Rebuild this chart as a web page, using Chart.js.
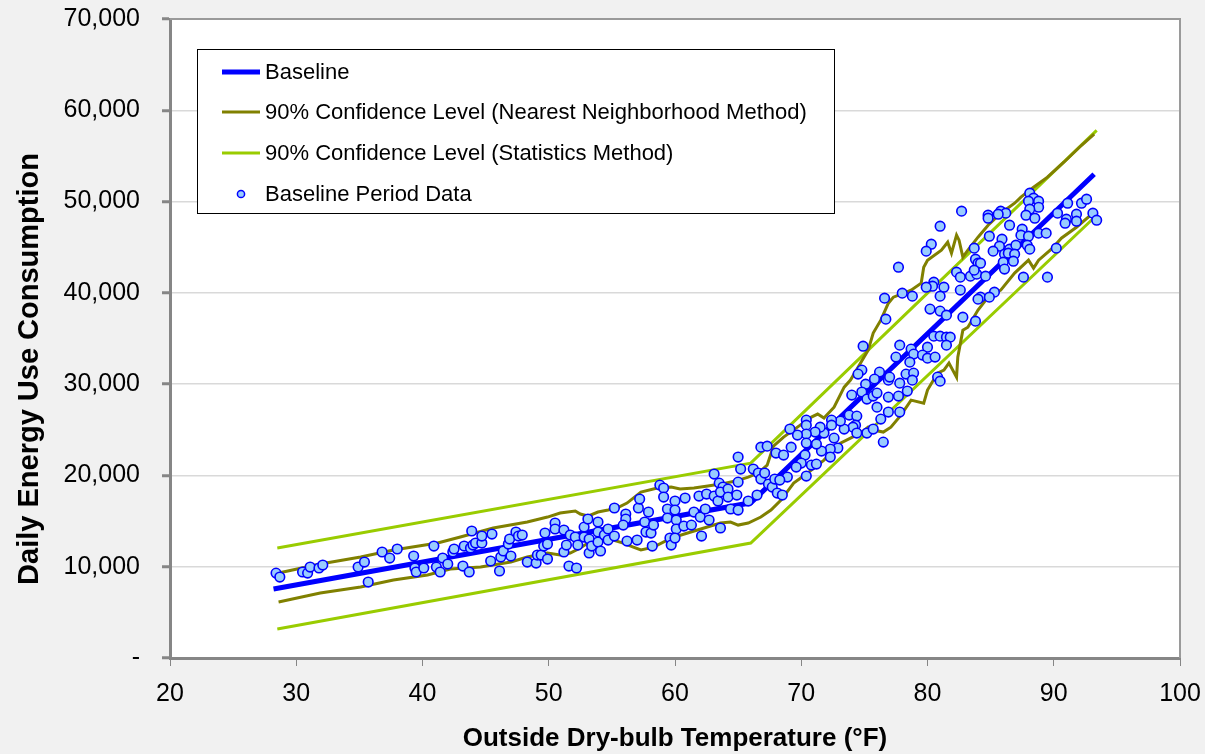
<!DOCTYPE html>
<html>
<head>
<meta charset="utf-8">
<script src="https://cdn.jsdelivr.net/npm/chart.js@4.4.1/dist/chart.umd.min.js"></script>
<style>
html, body { margin: 0; padding: 0; background: #f1f1f1; }
#wrap { width: 1205px; height: 754px; }
</style>
</head>
<body>
<div id="wrap"><canvas id="chart" width="1205" height="754"></canvas></div>
<script>
// baseline model (change point model)
var baseTemp = [28.2, 66.0, 93.2];
var baseEnergy = [7560, 17000, 53000];

// 90% confidence band, statistics method
var statTemp = [28.5, 66.0, 93.4];
var statUpper = [12050, 21350, 57800];
var statLower = [3180, 12590, 48500];

// 90% confidence band, nearest neighborhood method
var nnUpperTemp = [28.6, 31.9, 35.1, 37.7, 41.2, 43.0, 45.6, 48.3, 49.9, 50.9, 52.1, 52.5, 53.1, 53.9, 54.7, 55.4, 56.2, 57.3, 58.6, 59.7, 60.4, 61.5, 62.6, 63.6, 64.8, 65.8, 66.6, 67.3, 67.8, 68.6, 69.7, 70.8, 71.3, 71.8, 72.6, 73.4, 73.9, 74.5, 75.3, 75.7, 76.3, 76.9, 77.3, 78.7, 79.5, 79.7, 80.0, 81.1, 81.6, 81.9, 82.3, 82.5, 82.8, 83.2, 84.0, 84.8, 85.8, 86.9, 87.4, 88.4, 89.5, 90.8, 92.2, 93.2];
var nnUpperEnergy = [9310, 10290, 11060, 11830, 12590, 13250, 14240, 14890, 15440, 15880, 16100, 15770, 15550, 15990, 16210, 16430, 16970, 18180, 18620, 18720, 18510, 18620, 18830, 19050, 19380, 19820, 20260, 21130, 23210, 24200, 25290, 26390, 26720, 26280, 27480, 29670, 30440, 31860, 33730, 35590, 37010, 38870, 39530, 40300, 41060, 42810, 43580, 44680, 45550, 44350, 46320, 45770, 43910, 44680, 46100, 47410, 48730, 49820, 50480, 51570, 52670, 54310, 56170, 57380];
var nnLowerTemp = [28.6, 31.9, 35.1, 37.7, 40.4, 42.2, 44.6, 47.0, 48.3, 49.9, 50.9, 51.7, 52.5, 53.1, 54.1, 55.1, 55.9, 56.7, 57.3, 58.3, 59.7, 61.0, 62.3, 63.6, 64.4, 65.0, 65.8, 66.8, 67.6, 68.4, 69.4, 70.5, 71.8, 73.1, 73.9, 74.7, 75.3, 75.7, 76.5, 77.1, 77.9, 78.7, 79.7, 80.0, 80.8, 81.3, 81.7, 82.3, 82.4, 82.8, 83.2, 84.0, 84.8, 85.8, 86.9, 88.0, 88.4, 88.8, 89.9, 90.6, 91.8, 93.2];
var nnLowerEnergy = [6130, 7120, 7770, 8540, 9090, 9750, 9960, 10510, 11060, 11500, 11280, 11500, 12050, 12590, 12920, 12920, 12590, 12150, 11830, 12150, 13140, 13690, 14240, 14780, 14890, 14560, 14780, 15440, 16210, 17300, 19160, 20260, 21680, 23540, 24090, 24640, 25290, 24970, 24750, 25290, 26610, 28250, 27920, 29350, 31210, 31540, 32300, 30770, 32960, 35920, 36240, 38110, 39530, 40300, 42160, 43580, 42710, 43580, 44900, 45990, 47190, 48840];

// baseline period data (outside temperature, daily kWh)
var obsTemp = [
  28.4, 28.7, 30.5, 30.9, 31.1, 31.8, 32.1, 34.9, 35.4, 35.7, 36.8, 37.4, 38.0, 39.3, 39.4, 39.5, 40.1, 40.9, 41.1, 41.4,
  41.6, 42.0, 42.4, 42.5, 43.2, 43.3, 43.7, 43.8, 44.0, 44.2, 44.7, 44.7, 43.9, 45.5, 45.4, 46.1, 46.2, 46.4, 46.8, 46.9,
  47.0, 47.4, 47.6, 47.9, 48.3, 49.0, 49.1, 49.4, 49.7, 49.6, 49.9, 49.9, 50.5, 50.5,
  51.2, 51.2, 51.4, 51.6, 52.2, 51.7, 52.1, 52.3, 52.8, 52.8, 53.1, 53.2, 53.2, 53.4, 53.9, 53.9, 53.9, 54.1, 54.4, 54.7,
  54.7, 55.2, 55.2, 56.1, 56.1, 55.9, 56.2, 57.0, 57.1, 57.2,
  57.6, 57.9, 57.7, 58.1, 58.3, 58.2, 58.8, 59.1, 59.1, 59.4, 59.4, 59.6, 59.7, 60.0, 60.0, 60.1, 60.1, 60.0, 60.7, 60.8,
  61.3, 61.5, 61.9, 62.0, 62.1, 62.4, 62.5, 62.7, 63.1, 63.1, 63.4, 63.6, 63.5, 63.8, 63.6, 64.2, 64.2, 64.4, 64.9, 65.0,
  65.0, 65.0, 65.2, 65.8, 66.2, 66.5, 66.6, 66.8, 66.8, 67.3, 67.1, 67.4, 67.7, 67.9, 68.0, 68.1,
  76.7, 74.9, 74.8, 74.5, 76.2, 75.8, 75.1, 76.9, 74.8, 74.0, 75.2, 75.7, 76.0, 76.9, 76.3, 76.9, 73.8, 74.4, 74.3, 74.1,
  73.4, 73.1, 72.4, 72.4, 74.4, 75.2, 75.7, 76.5, 72.6, 72.9, 72.3, 72.3, 71.6, 71.8, 71.5, 71.1, 71.2, 70.4, 70.4, 70.4,
  70.4, 69.7, 69.1, 69.2, 68.6, 70.3, 70.0, 70.8, 71.2, 70.4, 69.6, 68.9, 68.3, 68.5,
  82.7, 81.0, 80.3, 79.9, 77.7, 83.7, 83.8, 84.0, 82.3, 82.6, 83.4, 83.9, 84.6, 84.9, 80.5, 80.4, 79.9, 81.3, 78.0, 78.8,
  76.6, 81.0, 82.6, 84.2, 84.0, 80.2, 81.0, 81.5, 82.8, 83.8, 77.8, 78.7, 80.5, 81.0, 81.5, 81.8, 81.5, 80.0, 77.5, 78.9,
  78.6, 79.6, 80.0, 80.6, 77.0, 78.3, 78.9, 78.8, 77.8, 78.4, 77.7, 80.8, 81.0, 76.0, 77.8,
  88.1, 88.4, 88.0, 88.8, 88.8, 88.1, 87.8, 88.5, 85.8, 86.2, 85.6, 84.8, 84.8, 86.5, 91.1, 90.3, 91.0, 90.9, 91.8, 91.8,
  92.2, 92.6, 93.1, 93.4, 87.5, 87.4, 88.0, 88.8, 89.4, 85.9, 85.7, 86.5, 87.0, 87.9, 88.1, 85.2, 86.1, 86.4, 86.9, 86.0,
  86.8, 86.1, 84.2, 83.7, 90.2, 87.6, 89.5, 85.3, 84.9
];
var obsEnergy = [
  9300, 8870, 9420, 9300, 9960, 9860, 10180, 9960, 10510, 8320, 11610, 10950, 11940, 11170, 9860, 9420, 9860, 12260, 9960, 9420,
  10950, 10290, 11610, 11940, 10070, 12260, 9420, 12050, 12370, 12590, 12590, 13360, 13910, 13580, 10620, 9530, 11060, 11720, 12480, 13030,
  11170, 13800, 13360, 13470, 10510, 10400, 11280, 11280, 13690, 12260, 12480, 10840, 14780, 14130,
  14020, 11610, 12370, 10070, 9860, 13470, 13250, 12370, 13250, 14340, 15220, 13030, 11500, 12260, 14890, 13800, 12700, 11720, 13470, 14130,
  12920, 13360, 16430, 15770, 15220, 14560, 12810, 12920, 16430, 17410,
  14890, 15990, 13800, 13690, 14560, 12260, 18940, 18620, 17630, 16320, 15330, 13140, 12370, 17190, 16210, 15110, 14130, 13140, 14450, 17520,
  14560, 15990, 17740, 15440, 13360, 16320, 17960, 15110, 20150, 17740, 17190, 14240, 19160, 18730, 18180, 18510, 17630, 16320, 17850, 19270,
  16210, 22010, 20700, 17190, 20700, 17850, 20260, 19600, 23100, 23210, 20260, 19050, 18720, 19600, 22450, 18070,
  37120, 34160, 31540, 31100, 31320, 30550, 30000, 30440, 29130, 28800, 28360, 28690, 27480, 28580, 26170, 26940, 26610, 26500, 25510, 25290,
  25080, 25950, 26060, 25510, 24640, 24640, 25080, 23650, 24090, 23000, 22890, 22010, 22670, 24640, 25290, 24750, 23430, 26060, 25510, 24530,
  23540, 24420, 25080, 23100, 22230, 22230, 21350, 21130, 21240, 19930, 20910, 19820, 19490, 17850,
  48950, 47300, 45330, 44570, 42810, 44900, 43690, 43250, 42270, 41720, 41830, 42050, 41830, 46210, 41170, 40730, 40620, 40620, 39970, 39640,
  39420, 39640, 40300, 39530, 39310, 38220, 38000, 37560, 37340, 36900, 34270, 33840, 35260, 35260, 35150, 35150, 34270, 34050, 32960, 33290,
  32410, 33180, 32850, 32960, 30770, 31100, 31210, 30440, 30110, 29240, 28690, 30770, 30330, 29020, 26940,
  50920, 50370, 50040, 50040, 49380, 49170, 48510, 48180, 48950, 48730, 48620, 48510, 48180, 47410, 49820, 48730, 48070, 47630, 48620, 47850,
  49820, 50260, 48730, 47960, 46980, 46320, 46210, 46540, 46540, 45880, 45110, 44790, 45220, 45220, 44790, 44570, 44240, 44350, 44240, 43360,
  43470, 42600, 43250, 42490, 44900, 41720, 41720, 40080, 39530
];

var yTicks = [0, 10000, 20000, 30000, 40000, 50000, 60000, 70000];
var xTicks = [20, 30, 40, 50, 60, 70, 80, 90, 100];

function toPoints(xs, ys) {
  return xs.map(function (x, i) { return { x: x, y: ys[i] }; });
}

var fontFamily = "'Liberation Sans', Arial, sans-serif";
Chart.defaults.font.family = fontFamily;
Chart.defaults.color = '#000';

var lineDefaults = { showLine: true, pointRadius: 0, pointHoverRadius: 0, tension: 0, fill: false };

var datasets = [
  {
    label: 'Baseline Period Data',
    data: toPoints(obsTemp, obsEnergy),
    pointRadius: 4.8,
    pointBorderWidth: 1.6,
    pointBackgroundColor: '#99ccff',
    pointBorderColor: '#0000ff',
    showLine: false,
    order: 0
  },
  Object.assign({ label: 'Baseline', data: toPoints(baseTemp, baseEnergy), borderColor: '#0000ff', borderWidth: 5, order: 1 }, lineDefaults),
  Object.assign({ label: '90% Confidence Level (Nearest Neighborhood Method)', data: toPoints(nnUpperTemp, nnUpperEnergy), borderColor: '#808000', borderWidth: 3, order: 2 }, lineDefaults),
  Object.assign({ label: 'nn-lower', data: toPoints(nnLowerTemp, nnLowerEnergy), borderColor: '#808000', borderWidth: 3, order: 2 }, lineDefaults),
  Object.assign({ label: '90% Confidence Level (Statistics Method)', data: toPoints(statTemp, statUpper), borderColor: '#99cc00', borderWidth: 3, order: 3 }, lineDefaults),
  Object.assign({ label: 'stat-lower', data: toPoints(statTemp, statLower), borderColor: '#99cc00', borderWidth: 3, order: 3 }, lineDefaults)
];

// legend rows, drawn inside the plot like the original
var legendRows = [
  { text: 'Baseline', kind: 'line', color: '#0000ff', width: 5 },
  { text: '90% Confidence Level (Nearest Neighborhood Method)', kind: 'line', color: '#808000', width: 3 },
  { text: '90% Confidence Level (Statistics Method)', kind: 'line', color: '#99cc00', width: 3 },
  { text: 'Baseline Period Data', kind: 'point' }
];
var yTitle = 'Daily Energy Use Consumption';

var framePlugin = {
  id: 'frame',
  beforeDraw: function (chart) {
    var ctx = chart.ctx, a = chart.chartArea;
    ctx.save();
    ctx.fillStyle = '#f1f1f1';
    ctx.fillRect(0, 0, chart.width, chart.height);
    ctx.fillStyle = '#ffffff';
    ctx.fillRect(a.left, a.top, a.right - a.left, a.bottom - a.top);
    ctx.restore();
  },
  afterDraw: function (chart) {
    var ctx = chart.ctx, a = chart.chartArea;
    ctx.save();
    // top and right edge of plot area
    ctx.strokeStyle = '#9a9a9a';
    ctx.lineWidth = 2;
    ctx.beginPath();
    ctx.moveTo(a.left, a.top);
    ctx.lineTo(a.right, a.top);
    ctx.lineTo(a.right, a.bottom);
    ctx.stroke();

    // y axis title (sits a bit lower than the axis centre in the original)
    ctx.save();
    ctx.translate(30, 369);
    ctx.rotate(-Math.PI / 2);
    ctx.font = 'bold 29px ' + fontFamily;
    ctx.fillStyle = '#000';
    ctx.textAlign = 'center';
    ctx.textBaseline = 'middle';
    ctx.fillText(yTitle, 0, 0);
    ctx.restore();

    // legend box
    var bx = 197, by = 49, bw = 637, bh = 164;
    ctx.fillStyle = '#ffffff';
    ctx.fillRect(bx, by, bw, bh);
    ctx.strokeStyle = '#000000';
    ctx.lineWidth = 1;
    ctx.strokeRect(bx + 0.5, by + 0.5, bw, bh);
    ctx.font = '22px ' + fontFamily;
    ctx.textBaseline = 'middle';
    ctx.textAlign = 'left';
    var rowY = [72, 112, 153, 194];
    legendRows.forEach(function (r, i) {
      var y = rowY[i];
      if (r.kind === 'line') {
        ctx.strokeStyle = r.color;
        ctx.lineWidth = r.width;
        ctx.beginPath();
        ctx.moveTo(222, y);
        ctx.lineTo(260, y);
        ctx.stroke();
      } else {
        ctx.beginPath();
        ctx.arc(241, y, 3.6, 0, Math.PI * 2);
        ctx.fillStyle = '#99ccff';
        ctx.fill();
        ctx.strokeStyle = '#0000ff';
        ctx.lineWidth = 1.5;
        ctx.stroke();
      }
      ctx.fillStyle = '#000000';
      ctx.fillText(r.text, 265, y + 1);
    });
    ctx.restore();
  }
};

new Chart(document.getElementById('chart'), {
  type: 'scatter',
  data: { datasets: datasets },
  options: {
    responsive: false,
    animation: false,
    layout: { padding: { top: 19, right: 25, left: 0, bottom: 0 } },
    plugins: { legend: { display: false }, tooltip: { enabled: false } },
    scales: {
      x: {
        type: 'linear',
        min: 20,
        max: 100,
        afterBuildTicks: function (scale) { scale.ticks = xTicks.map(function (v) { return { value: v }; }); },
        afterFit: function (scale) { scale.height = 96; scale.paddingLeft = 0; scale.paddingRight = 0; },
        border: { color: '#868686', width: 3 },
        grid: { drawOnChartArea: false, drawTicks: true, tickLength: 8, tickColor: '#868686', tickWidth: 1 },
        ticks: { font: { size: 25 }, color: '#000', padding: 13, maxRotation: 0 },
        title: {
          display: true,
          text: 'Outside Dry-bulb Temperature (°F)',
          font: { size: 26, weight: 'bold' },
          color: '#000',
          padding: { top: 0, bottom: 0 }
        }
      },
      y: {
        min: 0,
        max: 70000,
        afterBuildTicks: function (scale) { scale.ticks = yTicks.map(function (v) { return { value: v }; }); },
        afterFit: function (scale) { scale.width = 170; scale.paddingTop = 0; scale.paddingBottom = 0; },
        border: { color: '#868686', width: 3 },
        grid: { color: '#d9d9d9', lineWidth: 1.5, drawTicks: true, tickLength: 8, tickColor: '#868686', tickWidth: 3 },
        ticks: {
          font: { size: 25 },
          color: '#000',
          padding: 22,
          callback: function (v) { return v === 0 ? '-' : v.toLocaleString('en-US'); }
        },
        title: { display: false }
      }
    }
  },
  plugins: [framePlugin]
});
</script>
</body>
</html>
